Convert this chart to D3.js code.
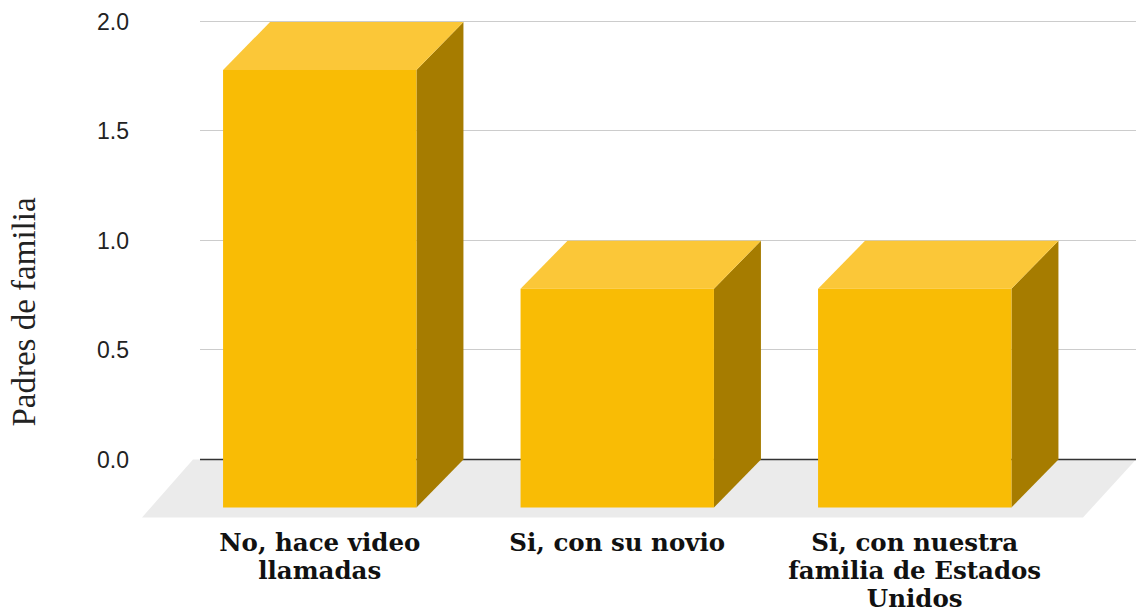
<!DOCTYPE html>
<html><head><meta charset="utf-8">
<script src="https://cdn.jsdelivr.net/npm/d3@7"></script>
<style>body{margin:0;background:#fff}svg{display:block}</style>
</head><body>
<svg id="c" width="1136" height="614"></svg>
<script>
const categories = [["No, hace video","llamadas"],["Si, con su novio"],["Si, con nuestra","familia de Estados","Unidos"]];
const values = [2, 1, 1];
const yTicks = [0, 0.5, 1.0, 1.5, 2.0];
const yTitle = "Padres de familia";

const svg = d3.select("#c");
const W = 1136;
const depthX = 47, depthY = 48;
const y = d3.scaleLinear().domain([0, 2]).range([459.5, 22]);
const x = d3.scaleBand().domain(d3.range(values.length)).range([171, 1063.5]).paddingInner(0.35).paddingOuter(0.175);

// gridlines (back plane)
svg.append("g").selectAll("line").data(yTicks.filter(d => d !== 0)).join("line")
  .attr("x1", 200).attr("x2", W).attr("y1", d => Math.round(y(d)) - 0.5).attr("y2", d => Math.round(y(d)) - 0.5)
  .attr("stroke", "#cccccc").attr("stroke-width", 1);

// floor
const fy0 = y(0);
svg.append("path")
  .attr("d", `M193,${fy0} L1136,${fy0} L1083,${fy0 + 58} L142,${fy0 + 58} Z`)
  .attr("fill", "#ebebeb");

// zero baseline
svg.append("line").attr("x1", 200).attr("x2", W).attr("y1", fy0).attr("y2", fy0)
  .attr("stroke", "#333333").attr("stroke-width", 1.5);

// y tick labels
svg.append("g").selectAll("text").data(yTicks).join("text")
  .attr("x", 129).attr("y", d => y(d)).attr("dy", "0.35em").attr("text-anchor", "end")
  .attr("font-family", "Liberation Sans, Arial, sans-serif").attr("font-size", 23).attr("fill", "#222")
  .text(d => d3.format(".1f")(d));

// y title
svg.append("text").attr("transform", "translate(35,312) rotate(-90)").attr("text-anchor", "middle")
  .attr("font-family", "Liberation Serif, Times New Roman, serif").attr("font-size", 33).attr("fill", "#222")
  .text(yTitle);

// bars
const bars = svg.append("g").selectAll("g").data(values).join("g");
bars.each(function(v, i) {
  const g = d3.select(this);
  const x0 = x(i), w = x.bandwidth();
  const top = y(v) + depthY, bot = y(0) + depthY;
  g.append("path").attr("fill", "#a67c00")
    .attr("d", `M${x0 + w},${top} L${x0 + w + depthX},${top - depthY} L${x0 + w + depthX},${bot - depthY} L${x0 + w},${bot} Z`);
  g.append("path").attr("fill", "#fbc738")
    .attr("d", `M${x0},${top} L${x0 + depthX},${top - depthY} L${x0 + w + depthX},${top - depthY} L${x0 + w},${top} Z`);
  g.append("rect").attr("x", x0).attr("y", top).attr("width", w).attr("height", bot - top).attr("fill", "#f9bc05");
});

// category labels
const lab = svg.append("g").selectAll("text").data(categories).join("text")
  .attr("text-anchor", "middle")
  .attr("font-family", "DejaVu Serif, Georgia, serif").attr("font-weight", "bold").attr("font-size", 24.5).attr("fill", "#111");
lab.each(function(lines, i) {
  const t = d3.select(this);
  lines.forEach((l, k) => {
    t.append("tspan").attr("x", x(i) + x.bandwidth() / 2).attr("y", 551 + k * 28).text(l);
  });
});
</script>
</body></html>
